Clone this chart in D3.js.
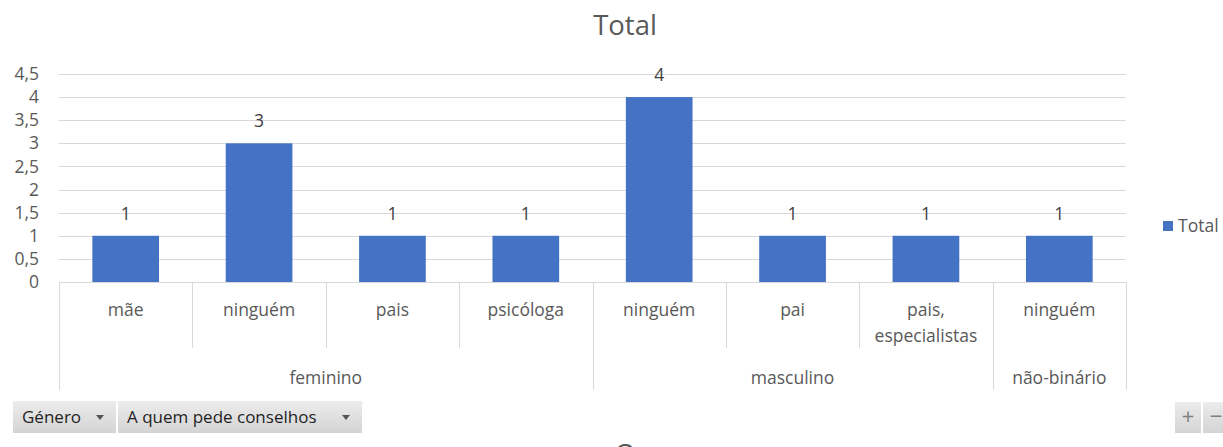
<!DOCTYPE html>
<html>
<head>
<meta charset="utf-8">
<script src="https://cdn.jsdelivr.net/npm/d3@7"></script>
<style>
  html, body { margin: 0; padding: 0; background: #fff; overflow: hidden; }
  svg { display: block; font-family: "Open Sans", "Noto Sans", sans-serif; }
</style>
</head>
<body>
<svg id="chart" width="1223" height="447"></svg>
<script>
// Pivot chart: who each respondent asks for advice, grouped by gender
const categories = ["mãe", "ninguém", "pais", "psicóloga", "ninguém", "pai", "pais, especialistas", "ninguém"];
const genders = ["feminino", "feminino", "feminino", "feminino", "masculino", "masculino", "masculino", "não-binário"];
const values = [1, 3, 1, 1, 4, 1, 1, 1];
const yTicks = [0, 0.5, 1, 1.5, 2, 2.5, 3, 3.5, 4, 4.5];
const seriesName = "Total";
const fieldButtons = ["Género", "A quem pede conselhos"];

(function draw() {
  const svg = d3.select("#chart");
  const textColor = "#595959";
  const gridColor = "#d9d9d9";
  const barColor = "#4472C4";
  const fs = 17.5;

  const plotLeft = 59, plotRight = 1126, plotTop = 74, plotBottom = 282;

  const x = d3.scaleBand()
    .domain(d3.range(categories.length))
    .range([plotLeft, plotRight])
    .paddingInner(0.5)
    .paddingOuter(0.25);

  const y = d3.scaleLinear().domain([0, 4.5]).range([plotBottom, plotTop]);
  const fmt = v => String(v).replace(".", ",");

  // Title
  svg.append("text")
    .attr("x", 625).attr("y", 35)
    .attr("text-anchor", "middle")
    .attr("font-size", 27.5)
    .attr("fill", textColor)
    .text(seriesName);

  // Gridlines
  svg.append("g")
    .selectAll("line")
    .data(yTicks.filter(t => t > 0))
    .join("line")
    .attr("x1", plotLeft).attr("x2", plotRight)
    .attr("y1", d => Math.round(y(d)) + 0.5).attr("y2", d => Math.round(y(d)) + 0.5)
    .attr("stroke", gridColor).attr("stroke-width", 1);

  // Y axis labels
  const yAxis = d3.axisLeft(y).tickValues(yTicks).tickFormat(fmt).tickSize(0).tickPadding(0);
  const gy = svg.append("g").attr("transform", `translate(${plotLeft - 20},0)`).call(yAxis);
  gy.select(".domain").remove();
  gy.selectAll("text")
    .attr("font-size", fs)
    .attr("fill", textColor)
    .attr("font-family", "\"Open Sans\", \"Noto Sans\", sans-serif");

  // Bars
  svg.append("g")
    .selectAll("rect")
    .data(values)
    .join("rect")
    .attr("x", (d, i) => x(i))
    .attr("width", x.bandwidth())
    .attr("y", d => y(d))
    .attr("height", d => y(0) - y(d))
    .attr("fill", barColor);

  // Data labels
  svg.append("g")
    .selectAll("text")
    .data(values)
    .join("text")
    .attr("x", (d, i) => x(i) + x.bandwidth() / 2)
    .attr("y", d => y(d) - 16)
    .attr("text-anchor", "middle")
    .attr("font-size", fs)
    .attr("fill", "#404040")
    .text(d => fmt(d));

  // Category axis line
  svg.append("line")
    .attr("x1", plotLeft).attr("x2", plotRight)
    .attr("y1", plotBottom + 0.5).attr("y2", plotBottom + 0.5)
    .attr("stroke", gridColor);

  // Multi-level category axis
  const step = x.step();
  const edge = i => plotLeft + i * step;
  const groupStarts = [];
  genders.forEach((g, i) => { if (i === 0 || genders[i - 1] !== g) groupStarts.push(i); });
  const groupEnds = groupStarts.slice(1).concat([genders.length]);

  const dividers = svg.append("g").attr("stroke", gridColor);
  for (let i = 0; i <= categories.length; i++) {
    const outer = groupStarts.includes(i) || i === categories.length;
    dividers.append("line")
      .attr("x1", Math.round(edge(i)) + 0.5).attr("x2", Math.round(edge(i)) + 0.5)
      .attr("y1", plotBottom).attr("y2", outer ? 390 : 348);
  }

  // Category labels (split after the comma to wrap)
  const catG = svg.append("g")
    .attr("font-size", fs)
    .attr("fill", textColor)
    .attr("text-anchor", "middle");
  categories.forEach((c, i) => {
    const parts = c.includes(", ") ? [c.split(", ")[0] + ",", c.split(", ")[1]] : [c];
    const cx = edge(i) + step / 2;
    const t = catG.append("text").attr("x", cx).attr("y", 316);
    parts.forEach((p, k) => t.append("tspan").attr("x", cx).attr("dy", k === 0 ? 0 : 26).text(p));
  });

  // Group labels
  svg.append("g")
    .attr("font-size", fs)
    .attr("fill", textColor)
    .attr("text-anchor", "middle")
    .selectAll("text")
    .data(groupStarts)
    .join("text")
    .attr("x", (s, k) => (edge(s) + edge(groupEnds[k])) / 2)
    .attr("y", 384)
    .text(s => genders[s]);

  // Legend
  svg.append("rect")
    .attr("x", 1163).attr("y", 221).attr("width", 10).attr("height", 10)
    .attr("fill", barColor);
  svg.append("text")
    .attr("x", 1178).attr("y", 232)
    .attr("font-size", fs)
    .attr("fill", textColor)
    .text(seriesName);

  // Pivot field buttons
  const defs = svg.append("defs");
  const grad = defs.append("linearGradient").attr("id", "btn")
    .attr("x1", 0).attr("x2", 0).attr("y1", 0).attr("y2", 1);
  grad.append("stop").attr("offset", "0%").attr("stop-color", "#ececec");
  grad.append("stop").attr("offset", "100%").attr("stop-color", "#d4d4d4");

  const btns = [
    { x: 13, w: 103, label: fieldButtons[0] },
    { x: 118, w: 244, label: fieldButtons[1] }
  ];
  btns.forEach(b => {
    svg.append("rect").attr("x", b.x).attr("y", 401).attr("width", b.w).attr("height", 32)
      .attr("fill", "url(#btn)");
    svg.append("text").attr("x", b.x + 9).attr("y", 423)
      .attr("font-size", 17).attr("fill", "#1f1f1f").text(b.label);
    const ax = b.x + b.w - 16;
    svg.append("path")
      .attr("d", `M${ax - 4},415 L${ax + 4},415 L${ax},420 Z`)
      .attr("fill", "#555");
  });

  // Zoom +/- buttons
  [{ x: 1175, s: "+" }, { x: 1203, s: "−" }].forEach(b => {
    svg.append("rect").attr("x", b.x).attr("y", 402).attr("width", 26).attr("height", 31)
      .attr("fill", "url(#btn)");
    svg.append("text").attr("x", b.x + 13).attr("y", 424).attr("text-anchor", "middle")
      .attr("font-size", 22).attr("fill", "#808080").text(b.s);
  });

  // Top of the next chart title, cut off by the frame
  svg.append("text")
    .attr("x", 625).attr("y", 462)
    .attr("text-anchor", "middle")
    .attr("font-size", 26)
    .attr("fill", "#595959")
    .text("O");
})();
</script>
</body>
</html>
